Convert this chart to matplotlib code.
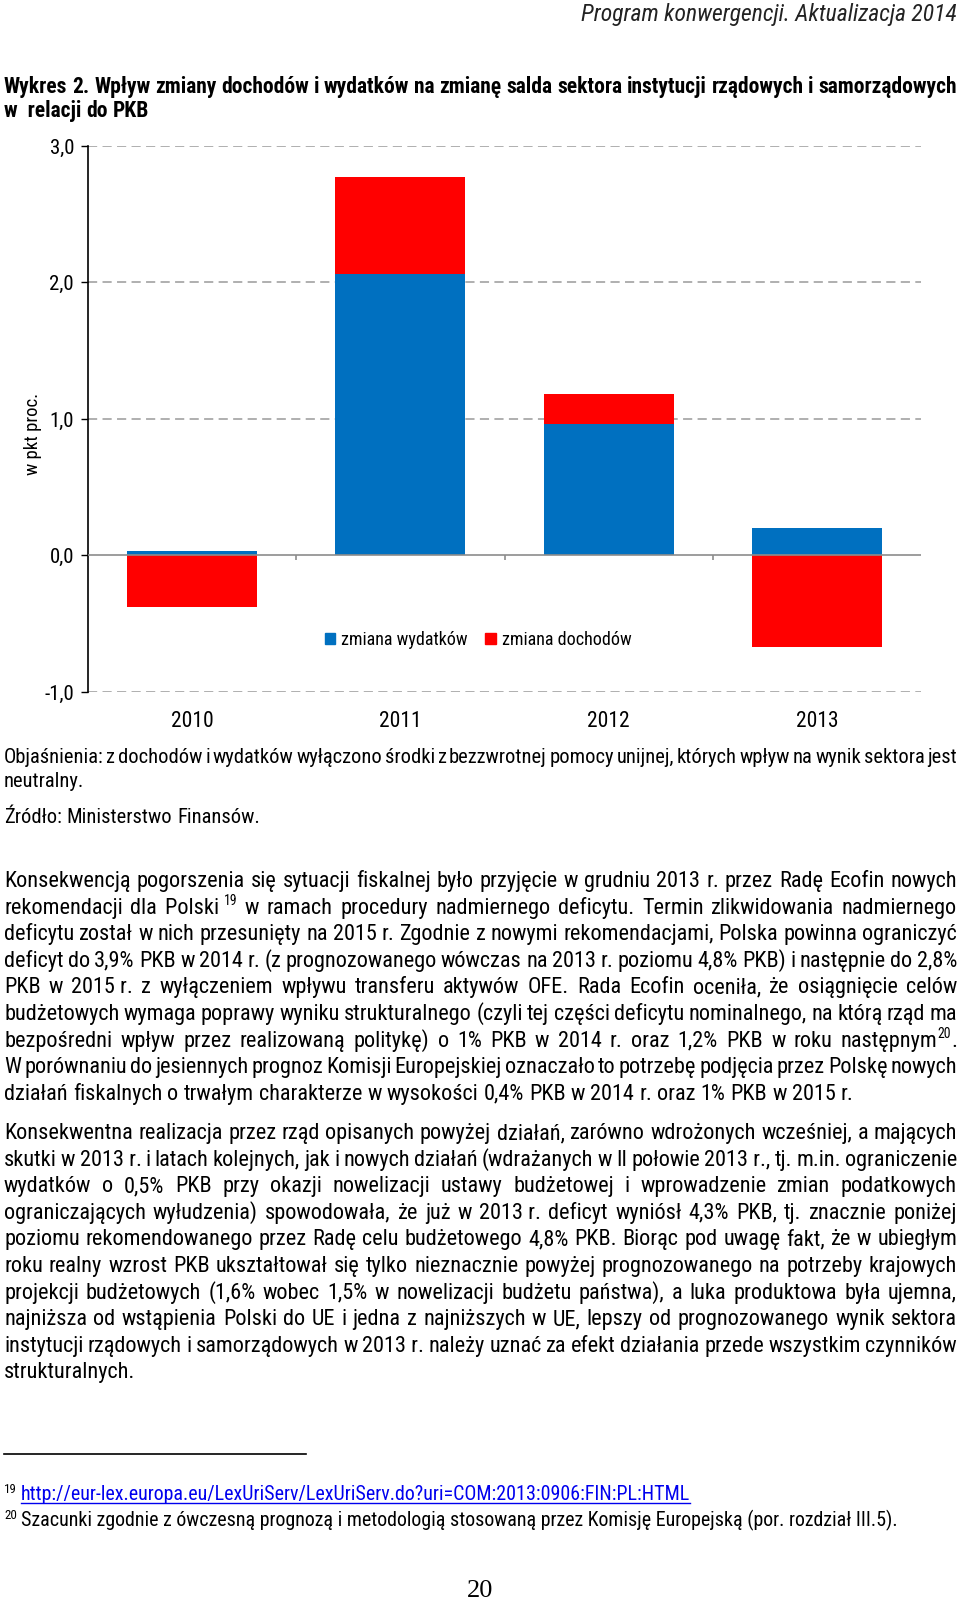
import numpy as np
import matplotlib
matplotlib.use("Agg")
import matplotlib.pyplot as plt
from matplotlib import font_manager as fm
from matplotlib.font_manager import FontProperties
from matplotlib.patches import Patch
from matplotlib.lines import Line2D

# ---------------- data ----------------
years = ["2010", "2011", "2012", "2013"]
zmiana_wydatkow = [0.03, 2.06, 0.96, 0.20]
zmiana_dochodow = [-0.38, 0.71, 0.22, -0.67]
y_ticks = [-1.0, 0.0, 1.0, 2.0, 3.0]
legend_labels = ["zmiana wydatków", "zmiana dochodów"]

header = "Program konwergencji. Aktualizacja 2014"
title_lines = [
    "Wykres 2. Wpływ zmiany dochodów i wydatków na zmianę salda sektora instytucji rządowych i samorządowych",
    "w~~relacji do PKB",
]
note_lines = [
    "Objaśnienia: z dochodów i wydatków wyłączono środki z bezzwrotnej pomocy unijnej, których wpływ na wynik sektora jest",
    "neutralny.",
]
source_line = "Źródło: Ministerstwo Finansów."
para1 = [
    "Konsekwencją pogorszenia się sytuacji fiskalnej było przyjęcie w grudniu 2013 r. przez Radę Ecofin nowych",
    "rekomendacji dla Polski~^19 w ramach procedury nadmiernego deficytu. Termin zlikwidowania nadmiernego",
    "deficytu został w nich przesunięty na 2015 r. Zgodnie z nowymi rekomendacjami, Polska powinna ograniczyć",
    "deficyt do 3,9% PKB w 2014 r. (z prognozowanego wówczas na 2013 r. poziomu 4,8% PKB) i następnie do 2,8%",
    "PKB w 2015~r. z wyłączeniem wpływu transferu aktywów OFE. Rada Ecofin oceniła, że osiągnięcie celów",
    "budżetowych wymaga poprawy wyniku strukturalnego (czyli tej części deficytu nominalnego, na którą rząd ma",
    "bezpośredni wpływ przez realizowaną politykę) o 1% PKB w 2014 r. oraz 1,2% PKB w roku następnym^20.",
    "W porównaniu do jesiennych prognoz Komisji Europejskiej oznaczało to potrzebę podjęcia przez Polskę nowych",
    "działań fiskalnych o trwałym charakterze w wysokości 0,4% PKB w 2014 r. oraz 1% PKB w 2015 r.",
]
para2 = [
    "Konsekwentna realizacja przez rząd opisanych powyżej działań, zarówno wdrożonych wcześniej, a mających",
    "skutki w 2013~r. i latach kolejnych, jak i nowych działań (wdrażanych w II połowie 2013~r., tj. m.in. ograniczenie",
    "wydatków o 0,5% PKB przy okazji nowelizacji ustawy budżetowej i wprowadzenie zmian podatkowych",
    "ograniczających wyłudzenia) spowodowała, że już w 2013~r. deficyt wyniósł 4,3% PKB, tj. znacznie poniżej",
    "poziomu rekomendowanego przez Radę celu budżetowego 4,8% PKB. Biorąc pod uwagę fakt, że w ubiegłym",
    "roku realny wzrost PKB ukształtował się tylko nieznacznie powyżej prognozowanego na potrzeby krajowych",
    "projekcji budżetowych (1,6% wobec 1,5% w nowelizacji budżetu państwa), a luka produktowa była ujemna,",
    "najniższa od wstąpienia Polski do UE i jedna z najniższych w UE, lepszy od prognozowanego wynik sektora",
    "instytucji rządowych i samorządowych w 2013~r. należy uznać za efekt działania przede wszystkim czynników",
    "strukturalnych.",
]
footnote_url = "http://eur-lex.europa.eu/LexUriServ/LexUriServ.do?uri=COM:2013:0906:FIN:PL:HTML"
footnote_20 = "Szacunki zgodnie z ówczesną prognozą i metodologią stosowaną przez Komisję Europejską (por. rozdział III.5)."
page_number = "20"

# ---------------- fonts ----------------
CONDENSED_STRETCH = {"condensed", "semi-condensed", "extra-condensed", "ultra-condensed"}
PRIORITY = ["Liberation Sans Narrow", "Arial Narrow", "Roboto Condensed",
            "Open Sans Condensed", "Noto Sans", "Open Sans", "Roboto", "DejaVu Sans"]


def _wnum(w):
    if isinstance(w, (int, float)):
        return w
    return fm.weight_dict.get(str(w), 400)


def find_condensed(bold=False, italic=False):
    best = None
    for f in fm.fontManager.ttflist:
        nm = f.name
        cond = ("Narrow" in nm) or ("Condensed" in nm) or (str(f.stretch) in CONDENSED_STRETCH)
        if not cond:
            continue
        if "Mono" in nm or "Serif" in nm:
            continue
        isb = _wnum(f.weight) >= 600
        isi = f.style in ("italic", "oblique")
        if isb != bold or isi != italic:
            continue
        if _wnum(f.weight) in (100, 200, 300) or _wnum(f.weight) >= 800:
            continue
        rank = len(PRIORITY)
        for i, p in enumerate(PRIORITY):
            if nm.startswith(p):
                rank = i
                break
        if best is None or rank < best[0]:
            best = (rank, f.fname)
    return best[1] if best else None


def font_kw(bold=False, italic=False):
    path = find_condensed(bold, italic)
    if path:
        return {"fontproperties": FontProperties(fname=path)}
    return {"family": "Liberation Sans", "fontweight": "bold" if bold else "normal",
            "fontstyle": "italic" if italic else "normal"}


F_REG = font_kw()
F_BOLD = font_kw(bold=True)
F_IT = font_kw(italic=True)
SERIF = "Liberation Serif"

W, H = 960, 1601
fig = plt.figure(figsize=(W / 100, H / 100), dpi=100)
fig.patch.set_facecolor("white")
renderer = fig.canvas.get_renderer()
PT = 100 / 72.0
X0, X1 = 4, 957


def fx(x):
    return x / W


def fy(y):
    return 1 - y / H


def measure(s, size, kw):
    t = fig.text(0, 0, s, **kw)
    t.set_fontsize(size)
    w = t.get_window_extent(renderer).width
    t.remove()
    return w


def put(x, y, s, size, kw, **extra):
    t = fig.text(fx(x), fy(y), s, **kw, **extra)
    t.set_fontsize(size)
    return t


def parse_word(word):
    runs = []
    cur = ""
    sup = False
    for ch in word:
        if ch == "^":
            if cur:
                runs.append((cur, sup))
            cur = ""
            sup = True
            continue
        if sup and not ch.isdigit():
            if cur:
                runs.append((cur, True))
            cur = ""
            sup = False
        cur += " " if ch == "~" else ch
    if cur:
        runs.append((cur, sup))
    return runs


def run_width(text, sup, size, kw):
    s = size * 0.62 if sup else size
    return measure("|" + text + "|", s, kw) - measure("||", s, kw)


def line_metrics(line, size, kw):
    parsed = [parse_word(w) for w in line.split(" ")]
    widths = [sum(run_width(t, s, size, kw) for t, s in p) for p in parsed]
    space = measure("a a", size, kw) - measure("aa", size, kw)
    return parsed, widths, space


def fit_size(lines, base, kw, width=X1 - X0, min_gap=0.55):
    size = base
    for ln in lines:
        _, widths, space = line_metrics(ln, base, kw)
        need = sum(widths) + (len(widths) - 1) * space * min_gap
        if need > width:
            size = min(size, base * width / need)
    return size


def draw_line(line, yb, size, kw, justify=True, color="black", x0=X0, x1=X1):
    parsed, widths, space = line_metrics(line, size, kw)
    total = sum(widths)
    if justify and len(widths) > 1:
        gap = (x1 - x0 - total) / (len(widths) - 1)
    else:
        gap = space
    x = x0
    for p, w in zip(parsed, widths):
        xx = x
        for t, s in p:
            if s:
                put(xx, yb - size * 0.38 * PT, t, size * 0.62, kw, color=color,
                    va="baseline", ha="left")
            else:
                put(xx, yb, t, size, kw, color=color, va="baseline", ha="left")
            xx += run_width(t, s, size, kw)
        x += w + gap


# ---------------- header & title ----------------
hs = fit_size([header], 17, F_IT, width=390)
put(957, 21, header, hs, F_IT, ha="right", va="baseline", color="#222222")
ts = fit_size(title_lines[:1], 15.5, F_BOLD)
draw_line(title_lines[0], 93, ts, F_BOLD)
draw_line(title_lines[1], 117, ts, F_BOLD, justify=False)

# ---------------- chart ----------------
ax = fig.add_axes([fx(88), fy(692), (921 - 88) / W, (692 - 146) / H])
x = np.arange(len(years))
wyd = np.array(zmiana_wydatkow)
doch = np.array(zmiana_dochodow)
bottom_red = np.where(np.sign(doch) == np.sign(wyd), wyd, 0.0)
ax.bar(x, wyd, width=0.625, color="#0070C0", zorder=3)
ax.bar(x, doch, width=0.625, bottom=bottom_red, color="#FF0000", zorder=3)
ax.set_xlim(-0.5, len(years) - 0.5)
ax.set_ylim(y_ticks[0], y_ticks[-1])
ax.set_yticks(y_ticks)
ax.set_yticklabels([f"{v:.1f}".replace(".", ",") for v in y_ticks])
for yv in y_ticks:
    if yv != 0:
        ax.axhline(yv, color="#9a9a9a", lw=1.1, linestyle=(0, (6, 3.5)), zorder=1)
ax.axhline(0, color="#8c8c8c", lw=1.2, zorder=4)
bounds = x[:-1] + 0.5
ax.vlines(bounds, -0.03, 0, color="#8c8c8c", lw=1.2, zorder=4)
ax.set_xticks(x)
ax.set_xticklabels(years)
for lab in ax.get_yticklabels():
    if "fontproperties" in F_REG:
        lab.set_fontproperties(F_REG["fontproperties"])
    lab.set_fontsize(15)
for lab in ax.get_xticklabels():
    if "fontproperties" in F_REG:
        lab.set_fontproperties(F_REG["fontproperties"])
    lab.set_fontsize(15.5)
ax.tick_params(axis="x", length=0, pad=14)
ax.tick_params(axis="y", length=5, width=1, color="black", pad=5)
for sp in ["top", "right", "bottom"]:
    ax.spines[sp].set_visible(False)
ax.spines["left"].set_color("black")
ax.spines["left"].set_linewidth(1.2)
ax.patch.set_alpha(0)

put(33, 434, "w pkt proc.", 13.5, F_REG, rotation=90, ha="center", va="center")

handles = [Patch(color="#0070C0"), Patch(color="#FF0000")]
leg_prop = F_REG["fontproperties"].copy() if "fontproperties" in F_REG else FontProperties(family="Liberation Sans")
leg_prop.set_size(13)
fig.legend(handles, legend_labels, loc="center", bbox_to_anchor=(fx(478), fy(640)),
           ncol=2, frameon=False, prop=leg_prop, handlelength=0.6, handleheight=0.6,
           handletextpad=0.3, columnspacing=1.0)

# ---------------- notes ----------------
ns = fit_size(note_lines[:1], 15, F_REG)
draw_line(note_lines[0], 763, ns, F_REG)
draw_line(note_lines[1], 787, ns, F_REG, justify=False)
draw_line(source_line, 823, ns, F_REG, justify=False)

# ---------------- paragraphs ----------------
ps = min(fit_size(para1[:-1], 16, F_REG), fit_size(para2[:-1], 16, F_REG))
y0 = 887
for i, ln in enumerate(para1):
    draw_line(ln, y0 + i * 26.6, ps, F_REG, justify=(i < len(para1) - 1))
y0 = 1139
for i, ln in enumerate(para2):
    draw_line(ln, y0 + i * 26.6, ps, F_REG, justify=(i < len(para2) - 1))

# ---------------- footnotes ----------------
fig.add_artist(Line2D([fx(4), fx(306)], [fy(1454), fy(1454)], color="black", lw=1.2))
fs = fit_size([footnote_20], 14.5, F_REG, width=X1 - 21 - 85)
put(4, 1493, "19", fs * 0.65, F_REG, va="baseline")
put(21, 1500, footnote_url, fs, F_REG, color="#0000EE", va="baseline")
uw = measure(footnote_url, fs, F_REG)
fig.add_artist(Line2D([fx(21), fx(21 + uw)], [fy(1503), fy(1503)], color="#0000EE", lw=1.0))
put(4, 1519, "20", fs * 0.65, F_REG, va="baseline")
put(21, 1526, footnote_20, fs, F_REG, va="baseline")

t = fig.text(fx(480), fy(1597), page_number, family=SERIF, ha="center", va="baseline")
t.set_fontsize(19)

fig.savefig("out.png", dpi=100, facecolor="white")
